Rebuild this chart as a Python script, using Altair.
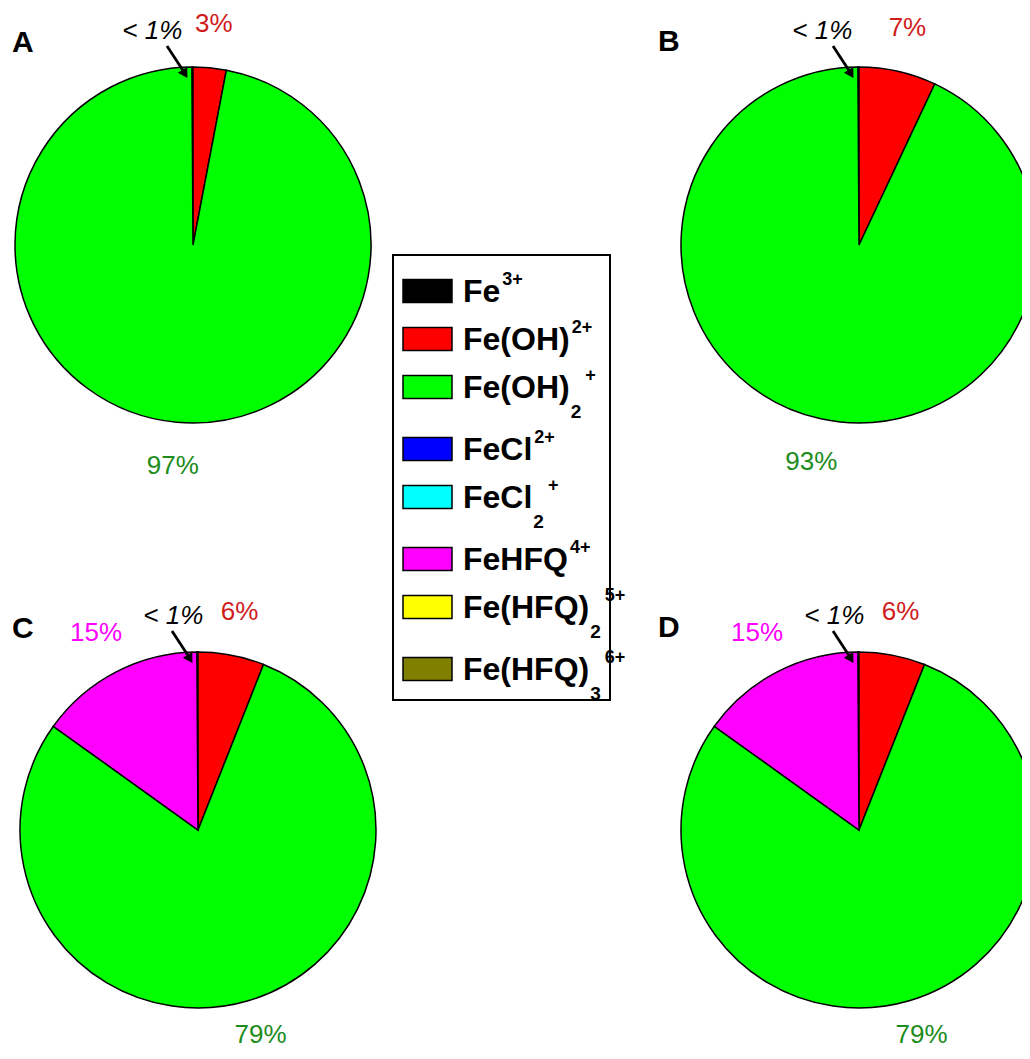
import altair as alt
import pandas as pd

# ---------------- data ----------------
species = ["Fe3+", "Fe(OH)2+", "Fe(OH)2 +", "FeCl2+", "FeCl2 +",
           "FeHFQ4+", "Fe(HFQ)2 5+", "Fe(HFQ)3 6+"]
legend_base = ["Fe", "Fe(OH)", "Fe(OH)", "FeCl", "FeCl", "FeHFQ",
               "Fe(HFQ)", "Fe(HFQ)"]
legend_sup = ["3+", "2+", "+", "2+", "+", "4+", "5+", "6+"]
legend_sub = ["", "", "2", "", "2", "", "2", "3"]
colors = ["#000000", "#ff0000", "#00ff00", "#0000ff", "#00ffff",
          "#ff00ff", "#ffff00", "#808000"]
label_colors = ["#000000", "#d01c1c", "#1c8c1c", "#0000ff", "#00bbbb",
                "#ff00ff", "#bbbb00", "#808000"]
# clockwise order of slices from 12 o'clock
pie_order = [7, 0, 1, 2, 3, 4, 5, 6]

pct_A = [0.1, 3.0, 96.9, 0.0, 0.0, 0.0, 0.0, 0.0]
pct_B = [0.1, 7.0, 92.9, 0.0, 0.0, 0.0, 0.0, 0.0]
pct_C = [0.1, 6.0, 78.9, 0.0, 0.0, 15.0, 0.0, 0.0]
pct_D = [0.1, 6.0, 78.9, 0.0, 0.0, 15.0, 0.0, 0.0]

FONT = "Liberation Sans"
R = 178
LABEL_R = 222
MAIN = 2  # index of the dominant species, Fe(OH)2+


def one_row():
    return alt.Chart(pd.DataFrame({"k": [0]}))


def pie(letter, values, w, h, cx, cy, lx, ly, small_dx, main_dy):
    df = pd.DataFrame({
        "species": species,
        "value": values,
        "ord": pie_order,
        "lc": label_colors,
    })
    pct = [f"{round(v)}%" if v >= 1 else "" for v in values]
    df["label_o"] = [p if i != MAIN else "" for i, p in enumerate(pct)]
    df["label_g"] = [p if i == MAIN else "" for i, p in enumerate(pct)]
    df["small"] = ["< 1%" if 0 < v < 1 else "" for v in values]
    df = df[df["value"] > 0]

    base = alt.Chart(df).encode(
        theta=alt.Theta("value:Q", stack=True),
        order=alt.Order("ord:Q", sort="ascending"),
        x=alt.value(cx),
        y=alt.value(cy),
    )
    arcs = base.mark_arc(outerRadius=R, stroke="black", strokeWidth=1.5,
                         clip=True).encode(
        color=alt.Color("species:N",
                        scale=alt.Scale(domain=species, range=colors),
                        legend=None)
    )
    labels = base.mark_text(radius=LABEL_R, font=FONT, fontSize=26,
                            align="center", baseline="middle").encode(
        text="label_o:N",
        color=alt.Color("lc:N", scale=None, legend=None),
    )
    main_lab = base.mark_text(radius=LABEL_R, font=FONT, fontSize=26,
                              align="center", baseline="middle",
                              dy=main_dy).encode(
        text="label_g:N",
        color=alt.Color("lc:N", scale=None, legend=None),
    )
    small = base.mark_text(radius=LABEL_R, font=FONT, fontSize=26,
                           fontStyle="italic", align="center",
                           baseline="middle", dx=small_dx, dy=8,
                           color="black").encode(text="small:N")
    arrow = one_row().mark_rule(color="black", strokeWidth=2.8).encode(
        x=alt.value(cx - 26), y=alt.value(cy - 199),
        x2=alt.value(cx - 9), y2=alt.value(cy - 173),
    )
    head = one_row().mark_point(shape="triangle-up", filled=True, size=120,
                                angle=149, color="black", opacity=1).encode(
        x=alt.value(cx - 8), y=alt.value(cy - 171),
    )
    tag = one_row().mark_text(font=FONT, fontSize=30, fontWeight="bold",
                              align="left", baseline="middle",
                              color="black").encode(
        x=alt.value(lx), y=alt.value(ly), text=alt.value(letter),
    )
    return alt.layer(arcs, labels, main_lab, small, arrow, head,
                     tag).resolve_scale(color="independent").properties(
        width=w, height=h)


LEFT_W, MID_W, RIGHT_W = 370, 270, 374
TOP_H, BOT_H = 530, 513

pA = pie("A", pct_A, LEFT_W, TOP_H, 185, 237, 4, 35, -40, 0)
pC = pie("C", pct_C, LEFT_W, BOT_H, 190, 292, 4, 91, -24, -8)
pB = pie("B", pct_B, RIGHT_W, TOP_H, 211, 237, 10, 34, -36, 0)
pD = pie("D", pct_D, RIGHT_W, BOT_H, 211, 292, 10, 90, -24, -8)

# ---------------- legend (base text + sub/superscripts) ----------------
# Arial/Liberation Sans Bold advance widths (per 1000 em)
ADV = {"F": 611, "e": 556, "(": 333, ")": 333, "O": 778, "H": 722,
       "C": 722, "l": 278, "Q": 778, "+": 584}
BASE_FS, SUP_FS, SUB_FS = 32, 18, 19
TEXT_X = 85


def adv(s, fs):
    return sum(ADV.get(ch, 556) for ch in s) * fs / 1000.0


GAP_UNITS = 14 / 48  # extra room below rows that carry a subscript
rows = []
extra = 0.0
for i, sp in enumerate(species):
    sub_x = TEXT_X + adv(legend_base[i], BASE_FS) + 1
    sup_x = sub_x + (adv(legend_sub[i], SUB_FS) + 4 if legend_sub[i] else 1)
    rows.append({"species": sp, "base": legend_base[i],
                 "sup": legend_sup[i], "sub": legend_sub[i],
                 "pos": i + extra, "sub_x": sub_x, "sup_x": sup_x})
    if legend_sub[i]:
        extra += GAP_UNITS
leg_df = pd.DataFrame(rows)

n_units = len(species) - 1 + GAP_UNITS * (sum(1 for s in legend_sub if s) - 1)
yscale = alt.Scale(domain=[0, n_units], range=[283, 283 + 48 * n_units],
                   zero=False, nice=False)
xscale = alt.Scale(domain=[0, MID_W], range=[0, MID_W], zero=False, nice=False)

box = one_row().mark_rect(fillOpacity=0, stroke="black", strokeWidth=2).encode(
    x=alt.value(15), x2=alt.value(232), y=alt.value(247), y2=alt.value(692)
)
swatch = alt.Chart(leg_df).transform_calculate(
    y0="datum.pos - 0.24", y1="datum.pos + 0.24"
).mark_rect(stroke="black", strokeWidth=1.5).encode(
    x=alt.value(25), x2=alt.value(74),
    y=alt.Y("y0:Q", scale=yscale, axis=None), y2="y1:Q",
    color=alt.Color("species:N", scale=alt.Scale(domain=species, range=colors),
                    legend=None),
)
base_txt = alt.Chart(leg_df).mark_text(
    font=FONT, fontSize=BASE_FS, fontWeight="bold", align="left",
    baseline="alphabetic", color="black", dy=11
).encode(
    x=alt.value(TEXT_X),
    y=alt.Y("pos:Q", scale=yscale, axis=None),
    text="base:N",
)
sup_txt = alt.Chart(leg_df).mark_text(
    font=FONT, fontSize=SUP_FS, fontWeight="bold", align="left",
    baseline="alphabetic", color="black", dy=-6
).encode(
    x=alt.X("sup_x:Q", scale=xscale, axis=None),
    y=alt.Y("pos:Q", scale=yscale, axis=None),
    text="sup:N",
)
sub_txt = alt.Chart(leg_df).mark_text(
    font=FONT, fontSize=SUB_FS, fontWeight="bold", align="left",
    baseline="alphabetic", color="black", dy=31
).encode(
    x=alt.X("sub_x:Q", scale=xscale, axis=None),
    y=alt.Y("pos:Q", scale=yscale, axis=None),
    text="sub:N",
)
legend = alt.layer(box, swatch, base_txt, sup_txt, sub_txt).properties(
    width=MID_W, height=TOP_H + BOT_H)

left = alt.vconcat(pA, pC, spacing=0)
right = alt.vconcat(pB, pD, spacing=0)
chart = alt.hconcat(left, legend, right, spacing=0).resolve_scale(
    color="independent"
).properties(
    padding=0, background="white"
).configure_view(stroke=None).configure_concat(spacing=0)

chart.save("out.html", embed_options={"renderer": "svg", "actions": False})
